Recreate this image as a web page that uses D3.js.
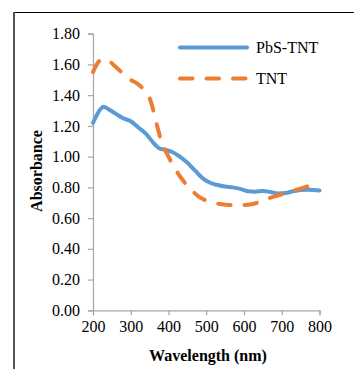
<!DOCTYPE html>
<html>
<head>
<meta charset="utf-8">
<script src="https://cdn.jsdelivr.net/npm/d3@7"></script>
<style>
body { margin: 0; background: #fff; }
svg text { font-family: "Liberation Serif", "Times New Roman", Times, serif !important; }
</style>
</head>
<body>
<div id="chart"></div>
<script>
(function() {
var width = 354,
  height = 369;

// PbS-TNT series
var pbsWavelength = [200, 210, 220, 228, 240, 260, 280, 300, 320, 340, 360, 375, 390, 410, 430, 450, 470, 490, 510, 530, 550, 570, 590, 610, 630, 650, 670, 690, 710, 730, 750, 770, 800];
var pbsAbsorbance = [1.22, 1.27, 1.31, 1.325, 1.31, 1.28, 1.25, 1.23, 1.19, 1.15, 1.09, 1.055, 1.045, 1.03, 1.00, 0.96, 0.91, 0.86, 0.83, 0.815, 0.805, 0.80, 0.79, 0.775, 0.772, 0.777, 0.77, 0.76, 0.763, 0.775, 0.783, 0.785, 0.78];

// TNT series
var tntWavelength = [200, 210, 225, 240, 260, 280, 300, 320, 340, 350, 360, 370, 380, 390, 400, 420, 440, 460, 480, 500, 520, 540, 560, 580, 600, 620, 640, 660, 680, 700, 720, 740, 760, 780, 800];
var tntAbsorbance = [1.55, 1.60, 1.635, 1.625, 1.585, 1.54, 1.50, 1.47, 1.42, 1.38, 1.30, 1.20, 1.11, 1.05, 1.00, 0.91, 0.84, 0.785, 0.74, 0.715, 0.70, 0.69, 0.685, 0.686, 0.685, 0.69, 0.705, 0.725, 0.74, 0.755, 0.77, 0.785, 0.80, 0.815, 0.83];

var xTicks = [200, 300, 400, 500, 600, 700, 800];
var yTicks = [0, 0.2, 0.4, 0.6, 0.8, 1.0, 1.2, 1.4, 1.6, 1.8];
var seriesNames = ["PbS-TNT", "TNT"];

var serif = "'Liberation Serif', 'Times New Roman', serif";

var svg = d3.select("#chart")
  .append("svg")
  .attr("width", width)
  .attr("height", height)
  .attr("font-family", serif)

// outer frame (only top and left edges visible)
svg.append("line")
  .attr("x1", 13).attr("x2", width)
  .attr("y1", 12.5).attr("y2", 12.5)
  .attr("stroke", "#000")
  .attr("stroke-width", 1.2)
svg.append("line")
  .attr("x1", 14).attr("x2", 14)
  .attr("y1", 12).attr("y2", height)
  .attr("stroke", "#555")
  .attr("stroke-width", 2)

var x = d3.scaleLinear().domain([200, 800]).range([93, 319.5])
var y = d3.scaleLinear().domain([0, 1.8]).range([310.3, 33.7])

var xAxis = svg.append("g")
  .attr("transform", "translate(0," + y(0) + ")")
  .call(d3.axisBottom(x).tickValues(xTicks).tickSize(5).tickPadding(5).tickFormat(d3.format("d")))
var yAxis = svg.append("g")
  .attr("transform", "translate(" + x(200) + ",0)")
  .call(d3.axisLeft(y).tickValues(yTicks).tickSize(5).tickPadding(8).tickFormat(d3.format(".2f")))

xAxis.attr("font-family", serif).attr("font-size", 16)
yAxis.attr("font-family", serif).attr("font-size", 16)

svg.selectAll(".domain").attr("stroke", "#a6a6a6").attr("stroke-width", 1.2)
svg.selectAll(".tick line").attr("stroke", "#a6a6a6").attr("stroke-width", 1.2)
svg.selectAll(".tick text")
  .attr("fill", "#000")

var line = d3.line()
  .x(function(d) { return x(d[0]) })
  .y(function(d) { return y(d[1]) })
  .curve(d3.curveMonotoneX)

svg.append("path")
  .datum(d3.zip(pbsWavelength, pbsAbsorbance))
  .attr("d", line)
  .attr("fill", "none")
  .attr("stroke", "#5b9bd5")
  .attr("stroke-width", 4)
  .attr("stroke-linecap", "round")
  .attr("stroke-linejoin", "round")

svg.append("path")
  .datum(d3.zip(tntWavelength, tntAbsorbance))
  .attr("d", line)
  .attr("fill", "none")
  .attr("stroke", "#ed7d31")
  .attr("stroke-width", 4)
  .attr("stroke-dasharray", "12.5,14")
  .attr("stroke-linecap", "round")

// legend
var legend = svg.selectAll(".legend")
  .data(seriesNames)
  .enter().append("g")
  .attr("class", "legend")
  .attr("transform", function(d, i) { return "translate(0," + (47.5 + i * 31) + ")" })

legend.append("line")
  .attr("x1", 180).attr("x2", 247)
  .attr("stroke", function(d, i) { return i == 0 ? "#5b9bd5" : "#ed7d31" })
  .attr("stroke-width", 4)
  .attr("stroke-linecap", "round")
  .attr("stroke-dasharray", function(d, i) { return i == 0 ? null : "12.5,14" })

legend.append("text")
  .attr("x", 256)
  .attr("y", 5.5)
  .attr("font-size", 16)
  .text(function(d) { return d })

svg.append("text")
  .attr("transform", "translate(42,171) rotate(-90)")
  .attr("text-anchor", "middle")
  .attr("font-size", 16)
  .attr("font-weight", "bold")
  .text("Absorbance")

svg.append("text")
  .attr("x", 208)
  .attr("y", 361)
  .attr("text-anchor", "middle")
  .attr("font-size", 16)
  .attr("font-weight", "bold")
  .text("Wavelength (nm)")
})();
</script>
</body>
</html>
